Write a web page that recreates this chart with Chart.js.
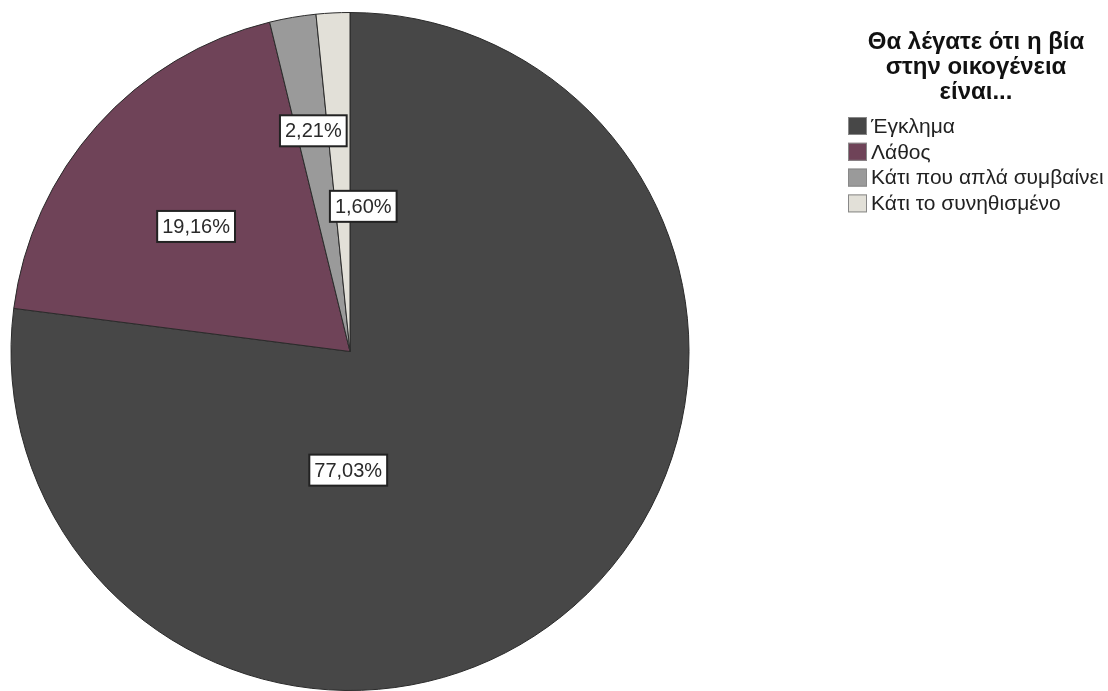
<!DOCTYPE html>
<html>
<head>
<meta charset="utf-8">
<script src="https://cdn.jsdelivr.net/npm/chart.js@4"></script>
<style>
  html, body { margin: 0; padding: 0; background: #fff; }
  #wrap { width: 1108px; height: 691px; }
</style>
</head>
<body>
<div id="wrap"><canvas id="chart" width="1108" height="691"></canvas></div>
<script>
// data
const categories = ["Έγκλημα", "Λάθος", "Κάτι που απλά συμβαίνει", "Κάτι το συνηθισμένο"];
const percents = [77.03, 19.16, 2.21, 1.60];
const sliceColors = ["#474747", "#6f4358", "#9a9a9a", "#e2e0d8"];
const legendTitle = ["Θα λέγατε ότι η βία", "στην οικογένεια", "είναι..."];

// where each label sits: extra angle (deg) from slice middle, fraction of radius
const labelPlace = [
    { angle: 42.2, r: 0.35 },
    { angle: -2.7, r: 0.585 },
    { angle: 0.3, r: 0.66 },
    { angle: 8.1, r: 0.43 }
];

const fmt = v => v.toFixed(2).replace(".", ",") + "%";

//percent labels in white boxes
const boxLabels = {
    id: "boxLabels",
    afterDatasetsDraw(chart){
        const c = chart.ctx;
        const arcs = chart.getDatasetMeta(0).data;
        c.save();
        c.font = "20px 'Liberation Sans', Arial, sans-serif";
        c.textAlign = "center";
        c.textBaseline = "middle";
        arcs.forEach((arc, i) => {
            const p = labelPlace[i];
            const mid = (arc.startAngle + arc.endAngle) / 2 + p.angle * Math.PI / 180;
            const x = arc.x + Math.cos(mid) * arc.outerRadius * p.r;
            const y = arc.y + Math.sin(mid) * arc.outerRadius * p.r;
            const txt = fmt(percents[i]);
            const w = c.measureText(txt).width + 10;
            const h = 31;
            c.fillStyle = "#ffffff";
            c.fillRect(x - w / 2, y - h / 2, w, h);
            c.strokeStyle = "#222";
            c.lineWidth = 2;
            c.strokeRect(x - w / 2, y - h / 2, w, h);
            c.fillStyle = "#2a2a2a";
            c.fillText(txt, x, y + 1);
        });
        c.restore();
    }
};

//legend on the right side
const sideLegend = {
    id: "sideLegend",
    afterDraw(chart){
        const c = chart.ctx;
        const ds = chart.data.datasets[0];
        c.save();
        c.fillStyle = "#111";
        c.font = "bold 24px 'Liberation Sans', Arial, sans-serif";
        c.textAlign = "center";
        c.textBaseline = "middle";
        legendTitle.forEach((t, i) => c.fillText(t, 976, 42 + i * 25));
        c.font = "21px 'Liberation Sans', Arial, sans-serif";
        c.textAlign = "left";
        chart.data.labels.forEach((lab, i) => {
            const y = 126 + i * 25.8;
            c.fillStyle = ds.backgroundColor[i];
            c.fillRect(848, y - 9, 19, 18);
            c.strokeStyle = "#888";
            c.lineWidth = 1;
            c.strokeRect(848.5, y - 8.5, 18, 17);
            c.fillStyle = "#222";
            c.fillText(lab, 871, y + 1);
        });
        c.restore();
    }
};

const ctx = document.querySelector("#chart");

const configChart = {
    type: "pie",
    data: {
        labels: categories,
        datasets: [{
            data: percents,
            backgroundColor: sliceColors,
            borderColor: "#2a2a2a",
            borderWidth: 1
        }]
    },
    options: {
        responsive: false,
        animation: false,
        layout: {
            padding: { left: 10, right: 418, top: 12, bottom: 0 }
        },
        plugins: {
            legend: { display: false },
            tooltip: { enabled: false }
        }
    },
    plugins: [boxLabels, sideLegend]
};

new Chart(ctx, configChart);
</script>
</body>
</html>
